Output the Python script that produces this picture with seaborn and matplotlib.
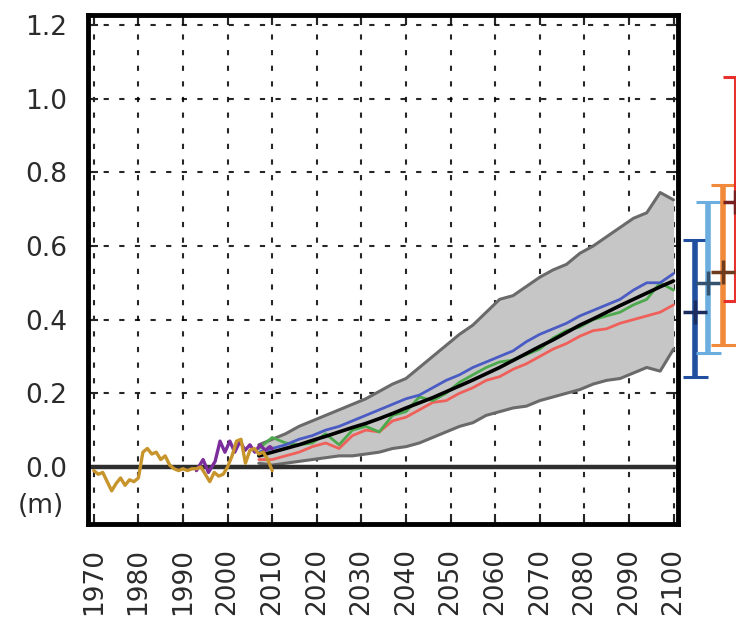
import matplotlib
matplotlib.use("Agg")
import pandas as pd
import matplotlib.pyplot as plt
import seaborn as sns

# observations (tide gauge, gold) and satellite altimetry (purple)
obs_years = list(range(1970, 2011))
obs_gold = [-0.01, -0.02, -0.015, -0.04, -0.065, -0.045, -0.03, -0.05, -0.035, -0.04,
            -0.03, 0.04, 0.05, 0.035, 0.04, 0.02, 0.03, 0.005, -0.005, -0.01,
            -0.005, -0.01, -0.005, -0.005, 0.0, -0.02, -0.04, -0.015, -0.025, -0.02,
            0.0, 0.03, 0.07, 0.075, 0.01, 0.045, 0.05, 0.035, 0.04, 0.02, -0.01]
sat_years = [1993, 1994.5, 1995.7, 1997.2, 1998.3, 1999.4, 2000.5, 2001.6,
             2002.8, 2003.9, 2005, 2006.1, 2007.3, 2008.4, 2009.5, 2010]
sat_purple = [-0.01, 0.02, -0.015, 0.015, 0.07, 0.04, 0.07, 0.04,
              0.07, 0.045, 0.06, 0.04, 0.06, 0.045, 0.055, 0.05]

# projections
proj_years = list(range(2007, 2101, 3))
ens_mean = [0.030, 0.040, 0.050, 0.060, 0.072, 0.083, 0.095, 0.107, 0.118, 0.131,
            0.145, 0.160, 0.174, 0.188, 0.204, 0.220, 0.236, 0.253, 0.270, 0.289,
            0.308, 0.327, 0.345, 0.365, 0.385, 0.402, 0.420, 0.438, 0.455, 0.472,
            0.489, 0.505]
ens_upper = [0.06, 0.075, 0.09, 0.11, 0.125, 0.14, 0.155, 0.17, 0.185, 0.205,
             0.225, 0.24, 0.27, 0.30, 0.33, 0.36, 0.385, 0.42, 0.455, 0.465,
             0.49, 0.515, 0.535, 0.55, 0.58, 0.60, 0.625, 0.65, 0.675, 0.69,
             0.745, 0.725]
ens_lower = [0.01, 0.005, 0.01, 0.015, 0.02, 0.025, 0.03, 0.03, 0.035, 0.04,
             0.05, 0.055, 0.065, 0.08, 0.095, 0.11, 0.12, 0.14, 0.15, 0.16,
             0.165, 0.18, 0.19, 0.20, 0.21, 0.225, 0.235, 0.24, 0.255, 0.27,
             0.26, 0.32]
model_blue = [0.04, 0.05, 0.06, 0.075, 0.085, 0.10, 0.11, 0.125, 0.14, 0.155,
              0.17, 0.185, 0.195, 0.215, 0.235, 0.25, 0.27, 0.285, 0.30, 0.315,
              0.34, 0.36, 0.375, 0.39, 0.41, 0.425, 0.44, 0.455, 0.48, 0.50,
              0.50, 0.525]
model_green = [0.05, 0.08, 0.065, 0.06, 0.065, 0.09, 0.06, 0.10, 0.11, 0.095,
               0.14, 0.15, 0.19, 0.18, 0.20, 0.23, 0.25, 0.27, 0.285, 0.29,
               0.305, 0.32, 0.35, 0.37, 0.38, 0.40, 0.41, 0.42, 0.44, 0.455,
               0.50, 0.48]
model_red = [0.02, 0.02, 0.03, 0.04, 0.055, 0.065, 0.05, 0.085, 0.10, 0.095,
             0.125, 0.135, 0.155, 0.175, 0.18, 0.20, 0.215, 0.235, 0.245, 0.265,
             0.28, 0.30, 0.32, 0.335, 0.355, 0.37, 0.375, 0.39, 0.40, 0.41,
             0.42, 0.44]

# 2100 ranges (outside the axes)
bar_x = [2104.7, 2107.8, 2111.2, 2113.7]
bar_mean = [0.42, 0.50, 0.53, 0.72]
bar_low = [0.245, 0.31, 0.33, 0.45]
bar_high = [0.615, 0.72, 0.765, 1.06]
bar_colors = ["#1f4f9e", "#6caee0", "#f28a3c", "#e8302c"]
cross_colors = ["#1b2d5e", "#35536e", "#6e3b1e", "#7a1f1f"]
bar_widths = [4, 4, 4, 1.5]

x_ticks = list(range(1970, 2101, 10))
y_ticks = [0.0, 0.2, 0.4, 0.6, 0.8, 1.0, 1.2]

sns.set_theme(style="ticks")
plt.rcParams["font.family"] = ["DejaVu Sans"]

fig = plt.figure(figsize=(7.36, 6.25), dpi=100)
ax = fig.add_axes([0.1196, 0.1616, 0.8016, 0.8144])

proj = pd.DataFrame({"year": proj_years, "mean": ens_mean, "upper": ens_upper,
                     "lower": ens_lower, "blue": model_blue, "green": model_green,
                     "red": model_red})

# grey model spread
ax.fill_between(proj["year"], proj["lower"], proj["upper"], color="#c6c6c6", lw=0, zorder=2)
sns.lineplot(data=proj, x="year", y="upper", ax=ax, color="#6a6a6a", lw=2.2, zorder=3)
sns.lineplot(data=proj, x="year", y="lower", ax=ax, color="#6a6a6a", lw=2.2, zorder=3)

ax.axhline(0, color="#2e2e2e", lw=3.2, zorder=4)

sns.lineplot(data=proj, x="year", y="red", ax=ax, color="#f0605a", lw=2, zorder=5)
sns.lineplot(data=proj, x="year", y="green", ax=ax, color="#4caa4c", lw=2, zorder=5)
sns.lineplot(data=proj, x="year", y="blue", ax=ax, color="#4a5cc4", lw=2, zorder=5)
sns.lineplot(data=proj, x="year", y="mean", ax=ax, color="black", lw=2.6, zorder=6)

sns.lineplot(x=sat_years, y=sat_purple, ax=ax, color="#7b2d9c", lw=2.4, zorder=7)
sns.lineplot(x=obs_years, y=obs_gold, ax=ax, color="#c8952c", lw=2.4, zorder=8)

# ranges at the right edge
for i in range(len(bar_x)):
    cont = ax.errorbar(bar_x[i], bar_mean[i],
                       yerr=[[bar_mean[i] - bar_low[i]], [bar_high[i] - bar_mean[i]]],
                       fmt="none", ecolor=bar_colors[i], elinewidth=bar_widths[i],
                       capsize=9, capthick=2.2, zorder=9)
    for art in list(cont.lines[1]) + list(cont.lines[2]):
        art.set_clip_on(False)
    ax.plot(bar_x[i], bar_mean[i], marker="+", ms=17, mew=2.5,
            color=cross_colors[i], clip_on=False, zorder=10)

ax.set_xlim(1968.7, 2101)
ax.set_ylim(-0.155, 1.227)
ax.set_xticks(x_ticks)
ax.set_yticks(y_ticks)
ax.set_yticklabels([f"{v:.1f}" for v in y_ticks])
ax.set_xlabel("")
ax.set_ylabel("")
ax.grid(True, color="black", linestyle=(0, (2.5, 5)), lw=1.5, alpha=0.85)

ax.tick_params(axis="both", direction="in", length=7, width=1.5, top=True, right=True,
               labelsize=19, labelcolor="#2b2b2b")
ax.tick_params(axis="y", pad=15)
ax.tick_params(axis="x", pad=17, labelrotation=90)

for s in ax.spines.values():
    s.set_linewidth(3.5)
    s.set_color("black")
    s.set_zorder(11)

ax.text(-0.04, -0.105, "(m)", transform=ax.get_yaxis_transform(), ha="right",
        va="center", fontsize=19, color="#2b2b2b")

fig.savefig("out.png", dpi=100)
